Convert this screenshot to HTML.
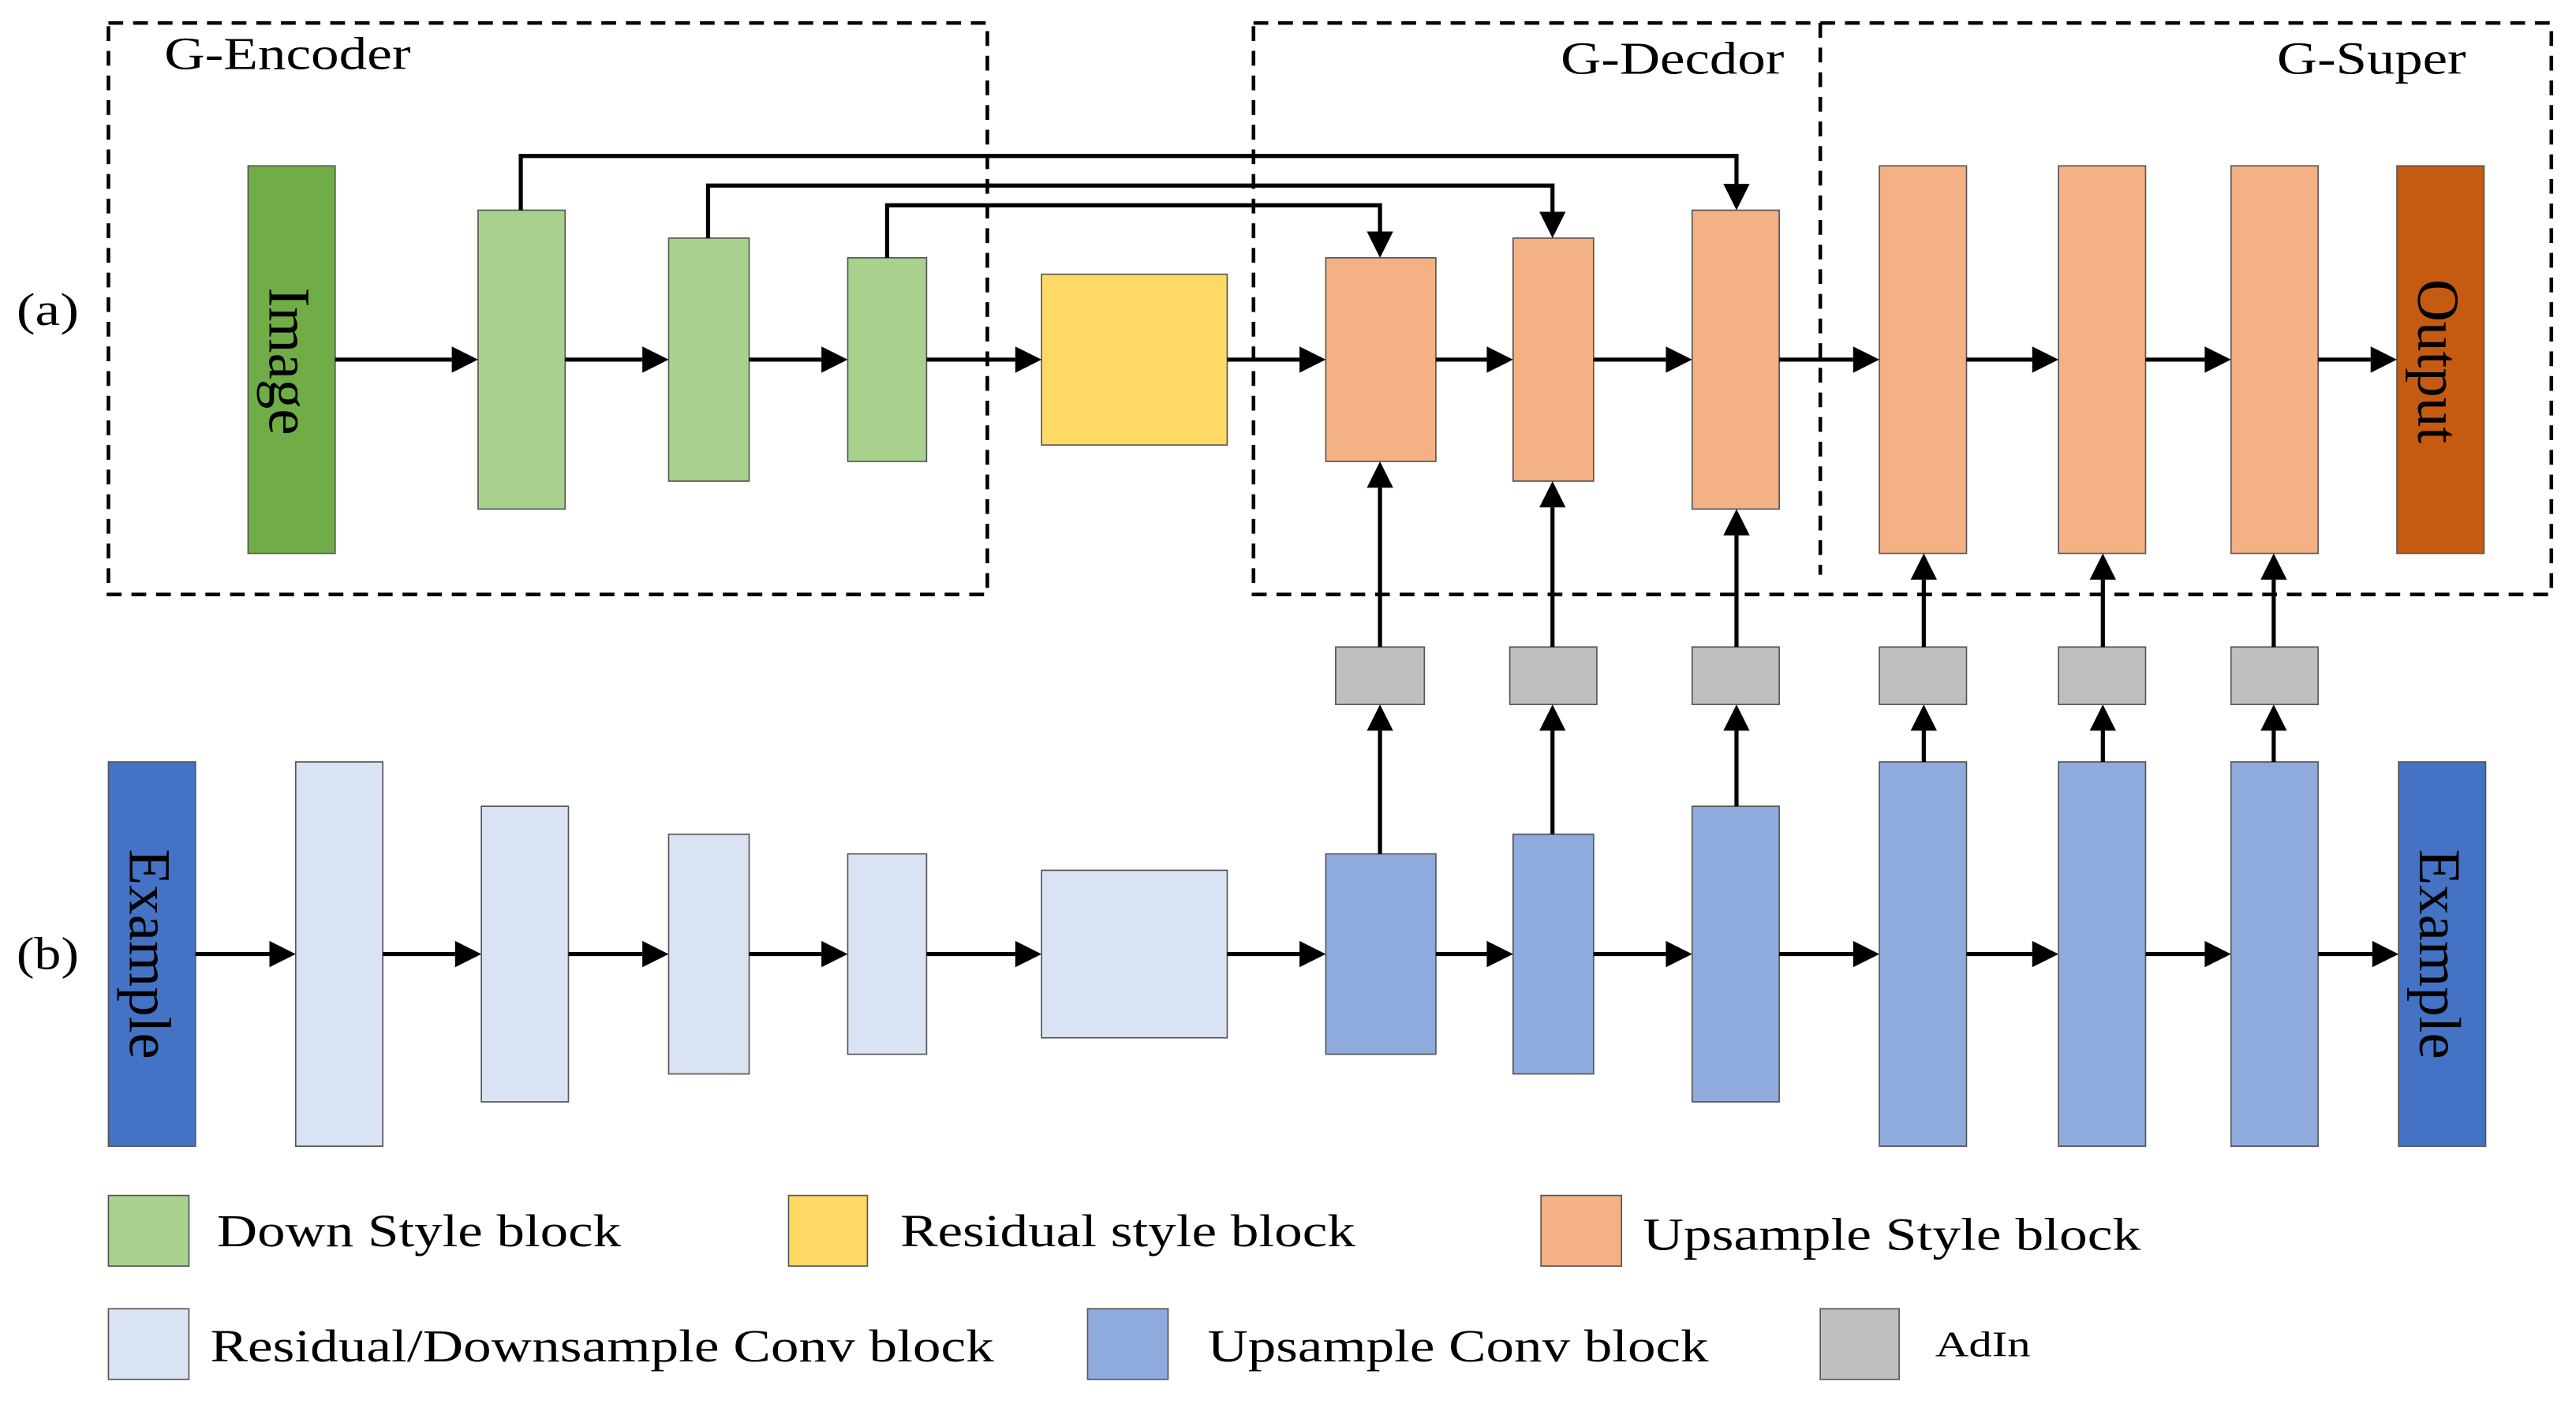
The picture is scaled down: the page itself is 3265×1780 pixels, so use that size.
<!DOCTYPE html>
<html><head><meta charset="utf-8"><style>html,body{margin:0;padding:0;background:#fff}svg{display:block}</style></head>
<body>
<svg width="3265" height="1780" viewBox="0 0 1568 855" preserveAspectRatio="none" xmlns="http://www.w3.org/2000/svg" font-family="Liberation Serif, serif">
<g fill="none" stroke="#000" stroke-width="2.2" stroke-dasharray="9,6">
<rect x="66" y="14" width="535" height="348"/>
<rect x="763" y="14" width="790" height="348"/>
<line x1="1108" y1="14" x2="1108" y2="350"/>
</g>
<g font-size="28" fill="#000" lengthAdjust="spacingAndGlyphs">
<text x="100" y="42" textLength="150" lengthAdjust="spacingAndGlyphs">G-Encoder</text>
<text x="950" y="45" textLength="136" lengthAdjust="spacingAndGlyphs">G-Decdor</text>
<text x="1386" y="45" textLength="115" lengthAdjust="spacingAndGlyphs">G-Super</text>
<text x="10" y="198" textLength="38" lengthAdjust="spacingAndGlyphs">(a)</text>
<text x="10" y="590" textLength="38" lengthAdjust="spacingAndGlyphs">(b)</text>
</g>
<g stroke="#555" stroke-width="0.8">
<rect x="151" y="101" width="53" height="236" fill="#70AD47"/>
<rect x="291" y="128" width="53" height="182" fill="#A9D18E"/>
<rect x="407" y="145" width="49" height="148" fill="#A9D18E"/>
<rect x="516" y="157" width="48" height="124" fill="#A9D18E"/>
<rect x="634" y="167" width="113" height="104" fill="#FFD966"/>
<rect x="807" y="157" width="67" height="124" fill="#F4B183"/>
<rect x="921" y="145" width="49" height="148" fill="#F4B183"/>
<rect x="1030" y="128" width="53" height="182" fill="#F4B183"/>
<rect x="1144" y="101" width="53" height="236" fill="#F4B183"/>
<rect x="1253" y="101" width="53" height="236" fill="#F4B183"/>
<rect x="1358" y="101" width="53" height="236" fill="#F4B183"/>
<rect x="1459" y="101" width="53" height="236" fill="#C55A11"/>
<g fill="#BFBFBF">
<rect x="813" y="394" width="54" height="35"/><rect x="919" y="394" width="53" height="35"/><rect x="1030" y="394" width="53" height="35"/>
<rect x="1144" y="394" width="53" height="35"/><rect x="1253" y="394" width="53" height="35"/><rect x="1358" y="394" width="53" height="35"/>
</g>
<rect x="66" y="464" width="53" height="234" fill="#4472C4"/>
<g fill="#DAE3F3">
<rect x="180" y="464" width="53" height="234"/><rect x="293" y="491" width="53" height="180"/><rect x="407" y="508" width="49" height="146"/>
<rect x="516" y="520" width="48" height="122"/><rect x="634" y="530" width="113" height="102"/>
</g>
<g fill="#8FAADC">
<rect x="807" y="520" width="67" height="122"/><rect x="921" y="508" width="49" height="146"/><rect x="1030" y="491" width="53" height="180"/>
<rect x="1144" y="464" width="53" height="234"/><rect x="1253" y="464" width="53" height="234"/><rect x="1358" y="464" width="53" height="234"/>
</g>
<rect x="1460" y="464" width="53" height="234" fill="#4472C4"/>
<rect x="66" y="728" width="49" height="43" fill="#A9D18E"/>
<rect x="480" y="728" width="48" height="43" fill="#FFD966"/>
<rect x="938" y="728" width="49" height="43" fill="#F4B183"/>
<rect x="66" y="797" width="49" height="43" fill="#DAE3F3"/>
<rect x="662" y="797" width="49" height="43" fill="#8FAADC"/>
<rect x="1108" y="797" width="48" height="43" fill="#BFBFBF"/>
</g>
<g font-size="36" fill="#000">
<text transform="translate(164,220) rotate(90)" text-anchor="middle" textLength="90" lengthAdjust="spacingAndGlyphs">Image</text>
<text transform="translate(1472,220) rotate(90)" text-anchor="middle" textLength="100" lengthAdjust="spacingAndGlyphs">Output</text>
<text transform="translate(79,581) rotate(90)" text-anchor="middle" textLength="128" lengthAdjust="spacingAndGlyphs">Example</text>
<text transform="translate(1473,581) rotate(90)" text-anchor="middle" textLength="128" lengthAdjust="spacingAndGlyphs">Example</text>
</g>
<g stroke="#000" stroke-width="2.5" fill="none">
<path d="M204,219H275M344,219H391M456,219H500M564,219H618M747,219H791M874,219H905M970,219H1014M1083,219H1128M1197,219H1237M1306,219H1342M1411,219H1443"/>
<path d="M119,581H164M233,581H277M346,581H391M456,581H500M564,581H618M747,581H791M874,581H905M970,581H1014M1083,581H1128M1197,581H1237M1306,581H1342M1411,581H1444"/>
<path d="M317,128V95H1057V112M431,145V113H945V129M540,157V125H840V141"/>
<path d="M840,394V297M945,394V309M1057,394V326M1171,394V353M1280,394V353M1384,394V353"/>
<path d="M840,520V445M945,508V445M1057,491V445M1171,464V445M1280,464V445M1384,464V445"/>
</g>
<g fill="#000">
<path d="M275,211L291,219L275,227ZM391,211L407,219L391,227ZM500,211L516,219L500,227ZM618,211L634,219L618,227ZM791,211L807,219L791,227ZM905,211L921,219L905,227ZM1014,211L1030,219L1014,227ZM1128,211L1144,219L1128,227ZM1237,211L1253,219L1237,227ZM1342,211L1358,219L1342,227ZM1443,211L1459,219L1443,227Z"/>
<path d="M164,573L180,581L164,589ZM277,573L293,581L277,589ZM391,573L407,581L391,589ZM500,573L516,581L500,589ZM618,573L634,581L618,589ZM791,573L807,581L791,589ZM905,573L921,581L905,589ZM1014,573L1030,581L1014,589ZM1128,573L1144,581L1128,589ZM1237,573L1253,581L1237,589ZM1342,573L1358,581L1342,589ZM1444,573L1460,581L1444,589Z"/>
<path d="M1049,112L1057,128L1065,112ZM937,129L945,145L953,129ZM832,141L840,157L848,141Z"/>
<path d="M832,297L840,281L848,297ZM937,309L945,293L953,309ZM1049,326L1057,310L1065,326ZM1163,353L1171,337L1179,353ZM1272,353L1280,337L1288,353ZM1376,353L1384,337L1392,353Z"/>
<path d="M832,445L840,429L848,445ZM937,445L945,429L953,445ZM1049,445L1057,429L1065,445ZM1163,445L1171,429L1179,445ZM1272,445L1280,429L1288,445ZM1376,445L1384,429L1392,445Z"/>
</g>
<g font-size="28" fill="#000">
<text x="132" y="759" textLength="246" lengthAdjust="spacingAndGlyphs">Down Style block</text>
<text x="548" y="759" textLength="277" lengthAdjust="spacingAndGlyphs">Residual style block</text>
<text x="1000" y="761" textLength="303" lengthAdjust="spacingAndGlyphs">Upsample Style block</text>
<text x="128" y="829" textLength="477" lengthAdjust="spacingAndGlyphs">Residual/Downsample Conv block</text>
<text x="735" y="829" textLength="305" lengthAdjust="spacingAndGlyphs">Upsample Conv block</text>
<text x="1178" y="826" font-size="22" textLength="58" lengthAdjust="spacingAndGlyphs">AdIn</text>
</g>
</svg>
</body></html>
